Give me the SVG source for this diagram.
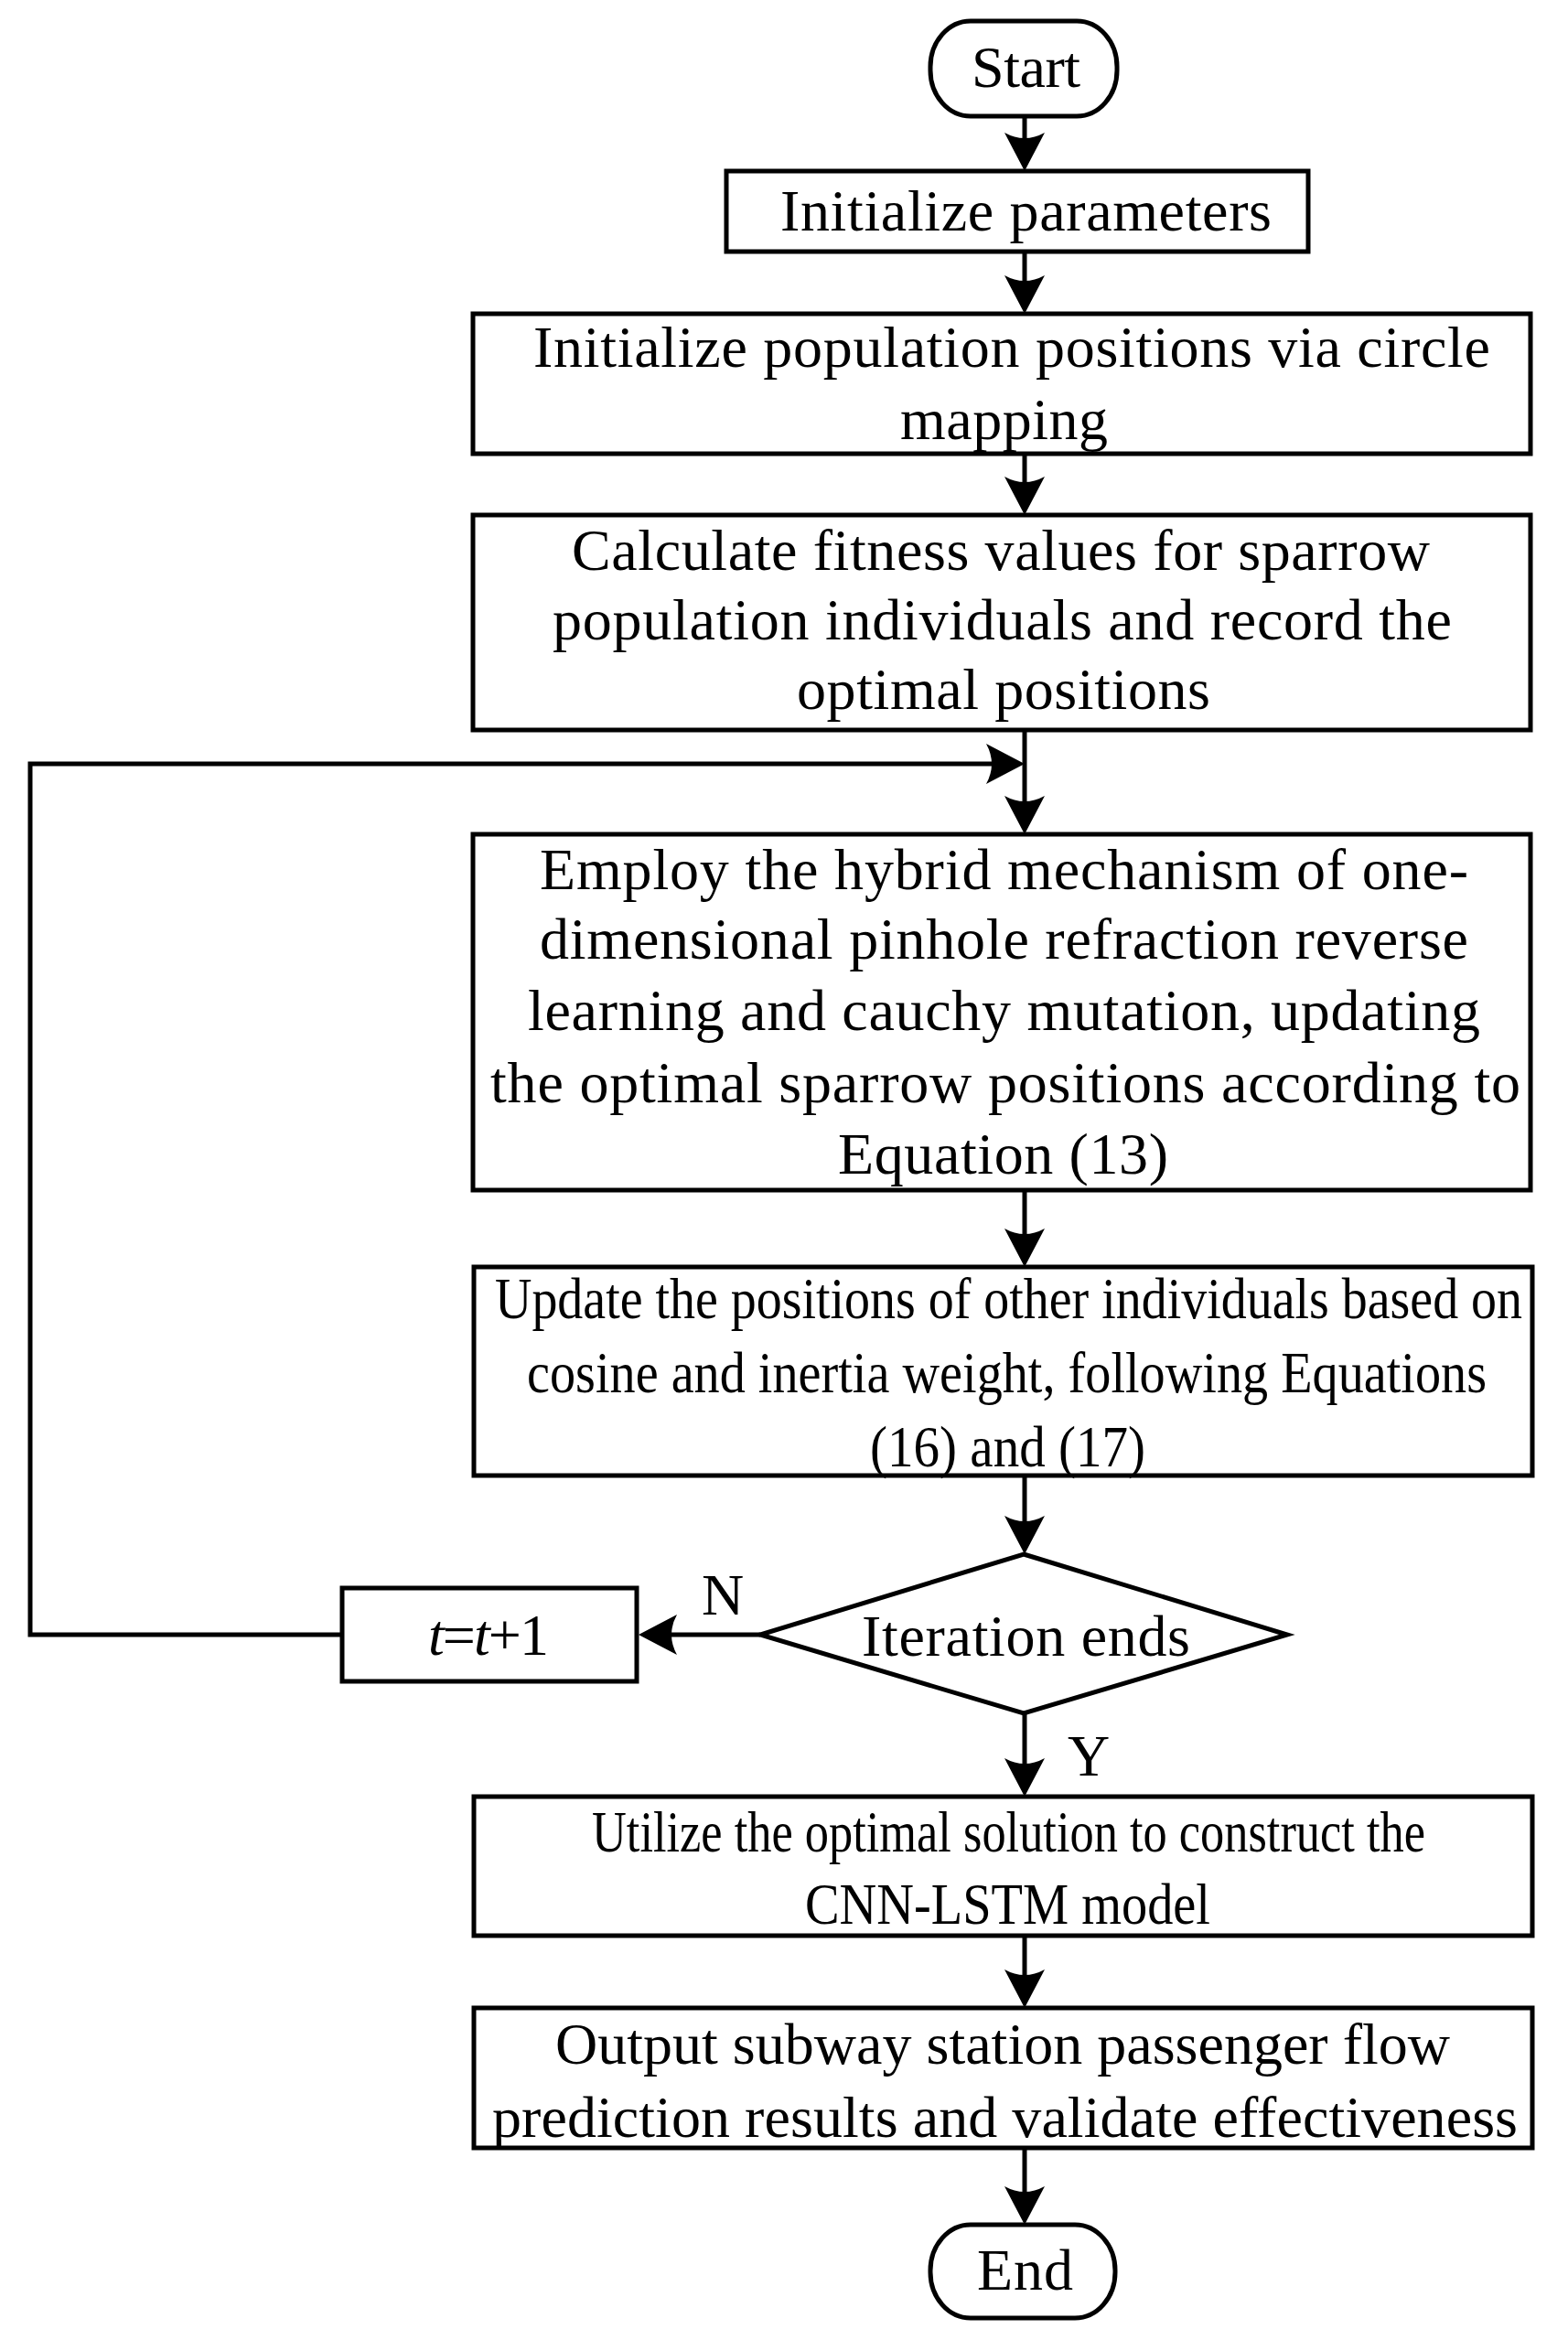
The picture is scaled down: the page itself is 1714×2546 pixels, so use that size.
<svg xmlns="http://www.w3.org/2000/svg" width="1714" height="2546" viewBox="0 0 1714 2546">
<style>
.b{fill:#fff;stroke:#000;stroke-width:5}
.t{font-family:"Liberation Serif","Times New Roman",serif;font-size:64px;fill:#000}
.c{fill:none;stroke:#000;stroke-width:5}
</style>
<defs>
<marker id="ah" markerUnits="userSpaceOnUse" viewBox="-44 -24 48 48" markerWidth="48" markerHeight="48" refX="-30" refY="0" orient="auto">
<path d="M0,0 L-42,-22 Q-30,0 -42,22 Z" fill="#000"/>
</marker>
</defs>
<rect width="1714" height="2546" fill="#fff"/>
<g id="connectors">
<path class="c" d="M1120,127 V157" marker-end="url(#ah)"/>
<path class="c" d="M1120,275 V313" marker-end="url(#ah)"/>
<path class="c" d="M1120,496 V533" marker-end="url(#ah)"/>
<path class="c" d="M1120,798 V882" marker-end="url(#ah)"/>
<path class="c" d="M372,1787 H33 V835 H1090" marker-end="url(#ah)"/>
<path class="c" d="M1120,1301 V1355" marker-end="url(#ah)"/>
<path class="c" d="M1120,1613 V1669" marker-end="url(#ah)"/>
<path class="c" d="M831,1787 H728" marker-end="url(#ah)"/>
<path class="c" d="M1120,1873 V1934" marker-end="url(#ah)"/>
<path class="c" d="M1120,2116 V2165" marker-end="url(#ah)"/>
<path class="c" d="M1120,2348 V2402" marker-end="url(#ah)"/>
</g>
<g id="start">
<rect class="b" x="1017" y="23" width="204" height="104" rx="44" ry="50"/>
<text class="t" x="1062" y="95" textLength="119">Start</text>
</g>
<g id="init-params">
<rect class="b" x="794" y="187" width="636" height="88"/>
<text class="t" x="853" y="252" textLength="537">Initialize parameters</text>
</g>
<g id="init-population">
<rect class="b" x="517" y="343" width="1156" height="153"/>
<text class="t" x="583" y="401" textLength="1046">Initialize population positions via circle</text>
<text class="t" x="984" y="480" textLength="227">mapping</text>
</g>
<g id="fitness">
<rect class="b" x="517" y="563" width="1156" height="235"/>
<text class="t" x="625" y="623" textLength="938">Calculate fitness values for sparrow</text>
<text class="t" x="604" y="699" textLength="983">population individuals and record the</text>
<text class="t" x="871" y="775" textLength="452">optimal positions</text>
</g>
<g id="hybrid">
<rect class="b" x="517" y="912" width="1156" height="389"/>
<text class="t" x="590" y="972" textLength="1015">Employ the hybrid mechanism of one-</text>
<text class="t" x="590" y="1048" textLength="1015">dimensional pinhole refraction reverse</text>
<text class="t" x="577" y="1126" textLength="1041">learning and cauchy mutation, updating</text>
<text class="t" x="536" y="1205" textLength="1126">the optimal sparrow positions according to</text>
<text class="t" x="916" y="1283" textLength="361">Equation (13)</text>
</g>
<g id="update">
<rect class="b" x="518" y="1385" width="1157" height="228"/>
<text class="t" x="541" y="1441" textLength="1123" lengthAdjust="spacingAndGlyphs">Update the positions of other individuals based on</text>
<text class="t" x="576" y="1522" textLength="1049" lengthAdjust="spacingAndGlyphs">cosine and inertia weight, following Equations</text>
<text class="t" x="951" y="1603" textLength="301" lengthAdjust="spacingAndGlyphs">(16) and (17)</text>
</g>
<g id="decision">
<polygon class="b" points="1119,1699 1407,1787 1119,1873 831,1787"/>
<text class="t" x="942" y="1810" textLength="359">Iteration ends</text>
<text class="t" x="767" y="1765">N</text>
<text class="t" x="1167" y="1941">Y</text>
</g>
<g id="increment">
<rect class="b" x="374" y="1736" width="322" height="102"/>
<text class="t" x="468" y="1809" textLength="132"><tspan font-style="italic">t</tspan>=<tspan font-style="italic">t</tspan>+1</text>
</g>
<g id="construct">
<rect class="b" x="518" y="1964" width="1157" height="152"/>
<text class="t" x="647" y="2024" textLength="911" lengthAdjust="spacingAndGlyphs">Utilize the optimal solution to construct the</text>
<text class="t" x="880" y="2103" textLength="443" lengthAdjust="spacingAndGlyphs">CNN-LSTM model</text>
</g>
<g id="output">
<rect class="b" x="518" y="2195" width="1157" height="153"/>
<text class="t" x="607" y="2256" textLength="978">Output subway station passenger flow</text>
<text class="t" x="538" y="2336" textLength="1121">prediction results and validate effectiveness</text>
</g>
<g id="end">
<rect class="b" x="1017" y="2432" width="202" height="102" rx="44" ry="50"/>
<text class="t" x="1068" y="2503" textLength="105">End</text>
</g>
</svg>
